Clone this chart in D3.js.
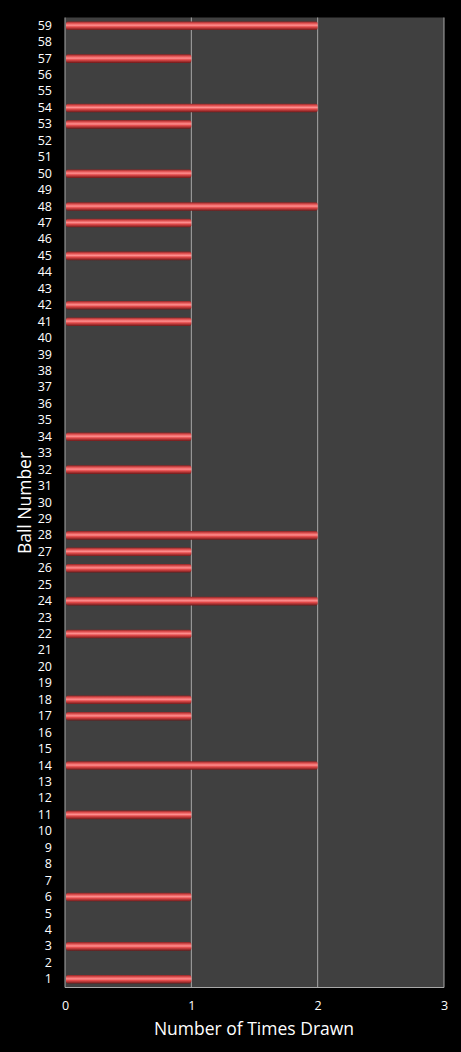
<!DOCTYPE html>
<html>
<head>
<meta charset="utf-8">
<script src="https://cdn.jsdelivr.net/npm/d3@7"></script>
<style>
  body { margin: 0; background: #000; }
  svg { display: block; }
</style>
</head>
<body>
<svg id="chart"></svg>
<script>
const width = 461;
const height = 1052;

// ball numbers and how often each was drawn
const balls = d3.range(1, 60);
const drawnTwice = [14, 24, 28, 48, 54, 59];
const drawnOnce = [1, 3, 6, 11, 17, 18, 22, 26, 27, 32, 34, 41, 42, 45, 47, 50, 53, 57];
const xTicks = [0, 1, 2, 3];

const counts = balls.map(b => ({
    ball: b,
    count: drawnTwice.includes(b) ? 2 : drawnOnce.includes(b) ? 1 : 0
}));

const margin = { top: 17.5, right: 17, bottom: 64.5, left: 65 };

const svg = d3.select("#chart")
    .attr("width", width)
    .attr("height", height);

svg.append("rect")
    .attr("width", width)
    .attr("height", height)
    .attr("fill", "#000");

const x = d3.scaleLinear()
    .domain([0, 3])
    .range([margin.left, width - margin.right]);

const y = d3.scaleBand()
    .domain(balls.slice().reverse())
    .range([margin.top, height - margin.bottom])
    .paddingInner(0.48)
    .paddingOuter(0.24);

// bar shading (red tube look)
const defs = svg.append("defs");
const grad = defs.append("linearGradient")
    .attr("id", "barGrad")
    .attr("x1", 0).attr("y1", 0)
    .attr("x2", 0).attr("y2", 1);
grad.append("stop").attr("offset", "0%").attr("stop-color", "#8a2424");
grad.append("stop").attr("offset", "22%").attr("stop-color", "#e05050");
grad.append("stop").attr("offset", "45%").attr("stop-color", "#ff8f8f");
grad.append("stop").attr("offset", "65%").attr("stop-color", "#e04848");
grad.append("stop").attr("offset", "100%").attr("stop-color", "#6e1a1a");

// plot background
svg.append("rect")
    .attr("x", x(0))
    .attr("y", margin.top)
    .attr("width", x(3) - x(0))
    .attr("height", height - margin.bottom - margin.top)
    .attr("fill", "#404040");

// vertical gridlines
svg.selectAll("line.grid")
    .data(xTicks.slice(1))
    .enter()
    .append("line")
    .attr("class", "grid")
    .attr("x1", d => x(d))
    .attr("x2", d => x(d))
    .attr("y1", margin.top)
    .attr("y2", height - margin.bottom)
    .attr("stroke", "#a8a8a8")
    .attr("stroke-width", 1);

// left and bottom axis lines
svg.append("line")
    .attr("x1", x(0)).attr("x2", x(0))
    .attr("y1", margin.top).attr("y2", height - margin.bottom)
    .attr("stroke", "#a8a8a8");
svg.append("line")
    .attr("x1", x(0)).attr("x2", x(3))
    .attr("y1", height - margin.bottom).attr("y2", height - margin.bottom)
    .attr("stroke", "#a8a8a8");

// bars
svg.selectAll("rect.bar")
    .data(counts.filter(d => d.count > 0))
    .enter()
    .append("rect")
    .attr("class", "bar")
    .attr("x", x(0) + 1)
    .attr("y", d => y(d.ball))
    .attr("width", d => x(d.count) - x(0) - 1)
    .attr("height", y.bandwidth())
    .attr("rx", 2)
    .attr("fill", "url(#barGrad)");

// y axis labels
const yAxis = d3.axisLeft(y).tickSize(0).tickPadding(13);
svg.append("g")
    .attr("transform", `translate(${x(0)},0)`)
    .call(yAxis)
    .call(g => g.select(".domain").remove())
    .selectAll("text")
    .attr("fill", "#fff")
    .attr("font-size", "12.5px")
    .attr("font-family", "Open Sans, sans-serif");

// x axis labels
const xAxis = d3.axisBottom(x).tickValues(xTicks).tickFormat(d3.format("d")).tickSize(0).tickPadding(14);
svg.append("g")
    .attr("transform", `translate(0,${height - margin.bottom})`)
    .call(xAxis)
    .call(g => g.select(".domain").remove())
    .selectAll("text")
    .attr("fill", "#fff")
    .attr("font-size", "12.5px")
    .attr("font-family", "Open Sans, sans-serif");

// axis titles
svg.append("text")
    .attr("x", 254)
    .attr("y", 1035)
    .attr("text-anchor", "middle")
    .attr("fill", "#fff")
    .attr("font-size", "17.5px")
    .attr("font-family", "Open Sans, sans-serif")
    .text("Number of Times Drawn");

svg.append("text")
    .attr("transform", "translate(31,503) rotate(-90)")
    .attr("text-anchor", "middle")
    .attr("fill", "#fff")
    .attr("font-size", "17.5px")
    .attr("font-family", "Open Sans, sans-serif")
    .text("Ball Number");
</script>
</body>
</html>
